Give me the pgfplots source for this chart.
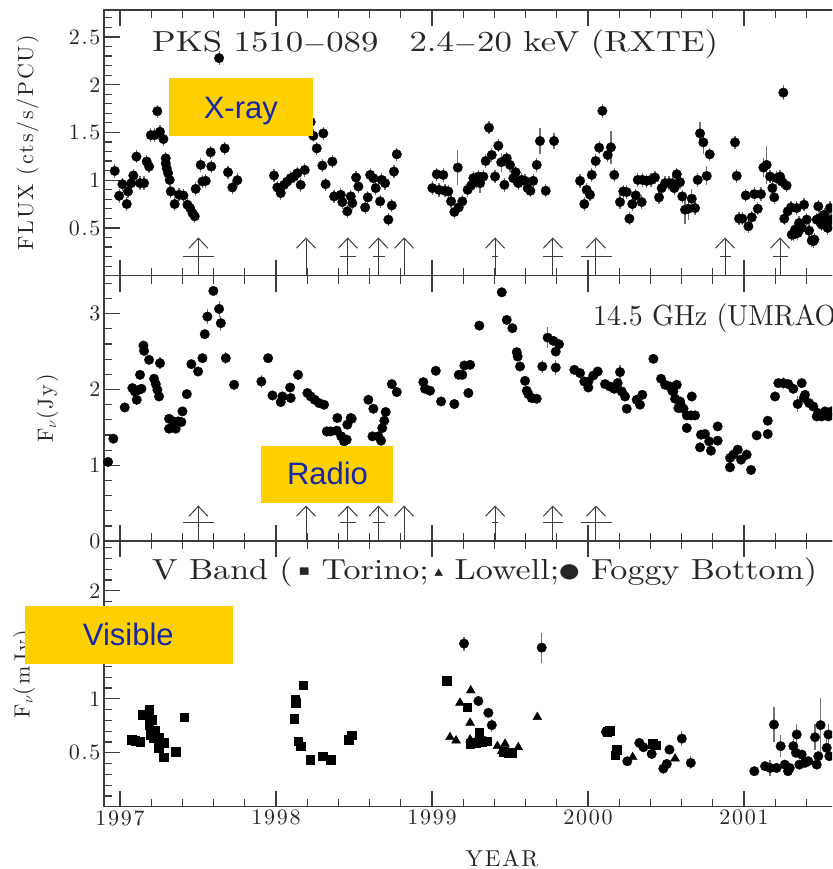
\documentclass[border=0pt]{standalone}
\usepackage{fontspec}
\usepackage{graphicx}
\usepackage{pgfplots}
\usepackage{pgfplotstable}
\pgfplotsset{compat=1.18}
\usetikzlibrary{arrows.meta}
\newfontfamily\hf{lmroman10-regular.otf}[LetterSpace=8]
\newfontfamily\hfplain{lmroman10-regular.otf}
\newfontfamily\arialf{Liberation Sans}
\newfontfamily\dejavu{DejaVu Sans}
\definecolor{boxyellow}{RGB}{255,208,0}
\definecolor{boxblue}{RGB}{22,40,168}
\definecolor{axgray}{RGB}{60,60,60}
\newcommand{\tickfont}{\hf\fontsize{22}{24}\selectfont}
\newcommand{\labfont}{\hf\fontsize{22}{24}\selectfont}
\newcommand{\titfont}{\hfplain\fontsize{29}{31}\selectfont}

% X-ray (RXTE) flux
\pgfplotstableread{
x y e
1996.966 1.097 0.07
1996.994 0.836 0.07
1997.015 0.958 0.07
1997.043 0.750 0.07
1997.051 0.882 0.07
1997.072 0.969 0.07
1997.085 1.049 0.07
1997.105 1.247 0.07
1997.128 0.969 0.07
1997.154 0.969 0.07
1997.171 1.195 0.07
1997.186 1.143 0.07
1997.197 1.472 0.07
1997.222 1.472 0.07
1997.239 1.722 0.07
1997.256 1.507 0.07
1997.278 1.430 0.07
1997.293 1.229 0.07
1997.293 1.177 0.07
1997.299 1.125 0.07
1997.308 1.073 0.07
1997.318 1.003 0.07
1997.325 0.882 0.07
1997.350 0.750 0.07
1997.378 0.847 0.07
1997.406 0.840 0.07
1997.432 0.743 0.07
1997.449 0.708 0.07
1997.464 0.656 0.07
1997.479 0.622 0.07
1997.485 0.909 0.07
1997.517 1.160 0.07
1997.528 0.986 0.07
1997.549 0.993 0.07
1997.581 1.292 0.07
1997.585 1.143 0.07
1997.635 2.278 0.07
1997.671 1.333 0.07
1997.692 1.083 0.07
1997.720 0.924 0.07
1997.752 1.000 0.07
1997.987 1.049 0.07
1998.008 0.924 0.07
1998.030 0.865 0.07
1998.051 0.951 0.07
1998.072 0.986 0.07
1998.094 1.021 0.07
1998.115 1.038 0.07
1998.137 1.073 0.07
1998.158 0.951 0.07
1998.184 1.107 0.07
1998.222 1.611 0.07
1998.239 1.465 0.07
1998.261 1.333 0.07
1998.303 1.490 0.07
1998.297 1.153 0.07
1998.318 0.958 0.07
1998.361 1.195 0.07
1998.372 0.830 0.07
1998.415 0.847 0.07
1998.425 0.771 0.07
1998.457 0.674 0.07
1998.479 0.830 0.07
1998.489 0.760 0.07
1998.513 1.028 0.07
1998.528 0.934 0.07
1998.571 0.715 0.07
1998.588 0.820 0.07
1998.603 1.055 0.07
1998.624 1.021 0.07
1998.639 0.917 0.07
1998.667 0.778 0.07
1998.677 1.003 0.07
1998.699 0.969 0.07
1998.720 0.587 0.07
1998.742 0.736 0.07
1998.756 1.090 0.07
1998.774 1.271 0.07
1999.002 0.917 0.07
1999.030 1.062 0.07
1999.045 0.899 0.07
1999.072 1.055 0.07
1999.083 0.889 0.07
1999.104 0.882 0.07
1999.122 0.778 0.07
1999.143 0.667 0.07
1999.165 1.132 0.18
1999.171 0.715 0.07
1999.194 0.778 0.07
1999.228 0.899 0.07
1999.250 0.944 0.07
1999.265 1.021 0.07
1999.287 0.986 0.07
1999.297 1.038 0.07
1999.308 0.969 0.10
1999.329 1.038 0.07
1999.344 1.201 0.07
1999.365 1.549 0.07
1999.383 1.264 0.07
1999.404 1.038 0.07
1999.425 1.361 0.07
1999.443 1.188 0.10
1999.464 0.951 0.07
1999.479 1.229 0.07
1999.500 1.160 0.07
1999.521 1.021 0.07
1999.536 1.083 0.07
1999.553 0.969 0.07
1999.575 1.003 0.07
1999.596 0.993 0.07
1999.613 0.917 0.07
1999.630 0.889 0.07
1999.649 0.993 0.07
1999.671 1.160 0.07
1999.692 1.410 0.14
1999.729 0.889 0.07
1999.782 1.410 0.08
1999.949 0.993 0.07
1999.976 0.750 0.07
1999.991 0.899 0.07
2000.013 0.847 0.07
2000.024 1.055 0.07
2000.049 1.201 0.07
2000.071 1.340 0.07
2000.092 1.726 0.07
2000.126 1.264 0.07
2000.147 1.344 0.17
2000.168 1.055 0.07
2000.205 0.771 0.07
2000.226 0.882 0.07
2000.248 0.875 0.07
2000.265 0.597 0.07
2000.284 0.750 0.07
2000.306 0.840 0.07
2000.319 1.003 0.07
2000.344 0.771 0.07
2000.348 1.003 0.07
2000.376 0.993 0.07
2000.404 1.003 0.07
2000.429 1.028 0.07
2000.455 0.820 0.07
2000.472 0.917 0.07
2000.494 0.969 0.07
2000.519 0.969 0.07
2000.540 0.969 0.07
2000.553 0.917 0.07
2000.569 1.062 0.07
2000.590 0.979 0.07
2000.604 0.830 0.07
2000.622 0.691 0.15
2000.643 0.701 0.12
2000.665 0.806 0.10
2000.686 0.708 0.07
2000.703 1.003 0.07
2000.718 1.490 0.12
2000.739 1.396 0.12
2000.761 1.045 0.10
2000.780 1.271 0.07
2000.942 1.396 0.07
2000.953 1.045 0.07
2000.968 0.597 0.07
2000.989 0.597 0.07
2001.011 0.840 0.07
2001.028 0.517 0.07
2001.050 0.611 0.07
2001.066 0.854 0.07
2001.088 0.701 0.07
2001.109 0.854 0.07
2001.124 1.132 0.10
2001.145 1.160 0.20
2001.167 1.038 0.07
2001.182 0.917 0.07
2001.194 0.820 0.07
2001.209 1.021 0.07
2001.231 1.038 0.07
2001.242 0.986 0.07
2001.252 1.917 0.08
2001.258 0.597 0.07
2001.273 0.944 0.07
2001.280 0.674 0.07
2001.301 0.715 0.07
2001.306 0.430 0.07
2001.316 0.430 0.07
2001.327 0.482 0.07
2001.338 0.708 0.07
2001.345 0.448 0.07
2001.353 0.552 0.07
2001.370 0.500 0.07
2001.385 0.743 0.07
2001.402 0.587 0.07
2001.417 0.472 0.07
2001.434 0.368 0.07
2001.444 0.361 0.07
2001.451 0.378 0.07
2001.466 0.587 0.07
2001.476 0.726 0.07
2001.487 0.604 0.07
2001.498 0.535 0.07
2001.515 0.639 0.07
2001.530 0.570 0.07
2001.536 0.500 0.07
2001.551 0.708 0.07
2001.562 0.587 0.07
}\xraydata

% Radio 14.5 GHz (UMRAO)
\pgfplotstableread{
x y e
1996.923 1.045 0.05
1996.957 1.351 0.04
1997.030 1.763 0.04
1997.079 2.018 0.04
1997.094 1.974 0.04
1997.107 1.864 0.04
1997.122 1.996 0.04
1997.128 2.193 0.04
1997.137 2.009 0.04
1997.150 2.579 0.04
1997.154 2.509 0.04
1997.186 2.391 0.04
1997.218 2.141 0.04
1997.229 2.071 0.04
1997.239 1.996 0.04
1997.250 1.908 0.04
1997.256 2.347 0.08
1997.314 1.614 0.04
1997.314 1.483 0.04
1997.342 1.579 0.04
1997.357 1.483 0.04
1997.372 1.579 0.04
1997.393 1.571 0.04
1997.400 1.711 0.04
1997.428 1.939 0.04
1997.457 2.334 0.04
1997.500 2.237 0.04
1997.528 2.413 0.04
1997.543 2.729 0.04
1997.560 2.961 0.10
1997.598 3.299 0.04
1997.635 3.062 0.10
1997.646 2.874 0.10
1997.678 2.413 0.08
1997.731 2.062 0.04
1997.906 2.105 0.08
1997.949 2.413 0.04
1997.977 1.921 0.04
1998.030 1.834 0.04
1998.041 1.908 0.04
1998.090 2.026 0.04
1998.094 1.887 0.04
1998.141 2.193 0.07
1998.201 1.953 0.04
1998.222 1.908 0.04
1998.248 1.864 0.04
1998.276 1.821 0.04
1998.308 1.799 0.04
1998.325 1.447 0.07
1998.350 1.447 0.04
1998.389 1.457 0.04
1998.393 1.624 0.04
1998.418 1.382 0.04
1998.436 1.316 0.04
1998.453 1.338 0.04
1998.457 1.536 0.04
1998.479 1.624 0.04
1998.485 1.614 0.04
1998.592 1.864 0.04
1998.618 1.382 0.04
1998.624 1.746 0.04
1998.656 1.382 0.04
1998.673 1.325 0.04
1998.681 1.492 0.04
1998.694 1.588 0.04
1998.703 1.703 0.04
1998.742 2.071 0.04
1998.774 1.966 0.04
1998.944 2.097 0.07
1998.955 2.009 0.04
1998.987 1.983 0.04
1999.024 2.246 0.04
1999.058 1.842 0.04
1999.143 1.808 0.04
1999.171 2.193 0.04
1999.194 2.193 0.04
1999.207 2.316 0.04
1999.233 1.953 0.04
1999.244 2.325 0.04
1999.303 2.842 0.06
1999.447 3.281 0.04
1999.479 2.917 0.06
1999.515 2.808 0.04
1999.543 2.492 0.04
1999.549 2.434 0.04
1999.564 2.303 0.04
1999.596 2.114 0.04
1999.607 1.983 0.06
1999.618 1.939 0.04
1999.639 1.887 0.04
1999.671 1.878 0.04
1999.707 2.303 0.08
1999.741 2.684 0.14
1999.778 2.641 0.04
1999.793 2.500 0.04
1999.793 2.289 0.10
1999.814 2.597 0.04
1999.912 2.259 0.04
1999.949 2.216 0.04
1999.976 2.105 0.04
2000.002 2.026 0.04
2000.002 2.105 0.04
2000.034 2.184 0.04
2000.062 2.237 0.04
2000.109 2.071 0.04
2000.141 2.039 0.04
2000.168 2.009 0.04
2000.190 2.084 0.04
2000.205 2.229 0.10
2000.216 1.974 0.04
2000.237 1.908 0.04
2000.248 1.746 0.04
2000.312 1.864 0.04
2000.333 1.799 0.04
2000.348 1.930 0.04
2000.419 2.404 0.04
2000.468 2.141 0.04
2000.494 2.062 0.04
2000.526 2.039 0.04
2000.540 1.983 0.04
2000.547 1.974 0.04
2000.558 1.878 0.04
2000.569 2.062 0.04
2000.579 1.755 0.04
2000.590 1.842 0.04
2000.596 1.789 0.04
2000.612 1.746 0.04
2000.633 1.658 0.04
2000.633 1.492 0.04
2000.660 1.658 0.04
2000.665 1.908 0.04
2000.686 1.658 0.04
2000.718 1.237 0.04
2000.724 1.404 0.04
2000.750 1.413 0.04
2000.776 1.316 0.04
2000.788 1.193 0.04
2000.831 1.513 0.04
2000.831 1.325 0.04
2000.910 1.097 0.08
2000.910 0.974 0.04
2000.932 1.141 0.04
2000.960 1.207 0.04
2000.981 1.075 0.04
2001.017 1.141 0.07
2001.045 0.939 0.04
2001.081 1.395 0.04
2001.152 1.588 0.04
2001.152 1.413 0.04
2001.199 1.908 0.04
2001.220 2.084 0.04
2001.252 2.084 0.08
2001.284 2.071 0.04
2001.316 2.009 0.04
2001.344 1.808 0.10
2001.370 2.084 0.04
2001.383 1.887 0.04
2001.391 1.930 0.04
2001.417 1.821 0.04
2001.444 1.776 0.04
2001.466 1.645 0.04
2001.476 1.689 0.04
2001.498 1.645 0.04
2001.519 1.711 0.04
2001.541 1.645 0.04
2001.562 1.711 0.04
}\radiodata

% V band: Torino (squares)
\pgfplotstableread{
x y
1997.075 0.622
1997.096 0.613
1997.128 0.601
1997.145 0.854
1997.188 0.901
1997.188 0.761
1997.203 0.808
1997.197 0.669
1997.214 0.638
1997.224 0.706
1997.252 0.638
1997.246 0.545
1997.278 0.591
1997.278 0.459
1997.355 0.508
1997.412 0.830
1998.117 0.814
1998.122 0.994
1998.126 0.963
1998.175 1.127
1998.143 0.607
1998.158 0.561
1998.218 0.436
1998.299 0.468
1998.350 0.436
1998.464 0.622
1998.485 0.663
1999.094 1.170
1999.226 0.923
1999.303 0.684
1999.244 0.582
1999.282 0.591
1999.319 0.601
1999.351 0.607
1999.458 0.508
1999.490 0.499
1999.511 0.499
2000.124 0.694
2000.137 0.706
2000.173 0.477
2000.184 0.529
2000.415 0.582
2000.436 0.570
}\torino

% V band: Lowell (triangles)
\pgfplotstableread{
x y
1999.115 0.644
1999.154 0.613
1999.179 0.963
1999.248 1.077
1999.244 0.777
1999.244 0.622
1999.419 0.561
1999.447 0.514
1999.468 0.582
1999.553 0.551
1999.675 0.830
2000.286 0.459
2000.558 0.446
}\lowell

% V band: Foggy Bottom (circles)
\pgfplotstableread{
x y e
1999.205 1.511 0.065
1999.287 0.601 0.04
1999.297 0.979 0.05
1999.340 0.607 0.04
1999.361 0.870 0.04
1999.383 0.756 0.06
1999.703 1.474 0.14
2000.115 0.694 0.03
2000.252 0.421 0.03
2000.329 0.591 0.03
2000.355 0.551 0.03
2000.408 0.489 0.03
2000.483 0.353 0.03
2000.505 0.396 0.03
2000.522 0.529 0.03
2000.601 0.631 0.07
2000.659 0.406 0.06
2001.066 0.329 0.04
2001.135 0.375 0.03
2001.167 0.359 0.07
2001.192 0.761 0.16
2001.209 0.359 0.03
2001.235 0.561 0.10
2001.261 0.390 0.03
2001.282 0.329 0.03
2001.293 0.359 0.03
2001.316 0.561 0.07
2001.338 0.669 0.10
2001.333 0.499 0.04
2001.355 0.390 0.03
2001.370 0.483 0.04
2001.391 0.406 0.04
2001.412 0.422 0.04
2001.455 0.644 0.12
2001.466 0.390 0.03
2001.476 0.468 0.04
2001.491 0.756 0.25
2001.530 0.545 0.10
2001.541 0.669 0.10
2001.547 0.468 0.04
}\foggy

% flare arrows (x positions)
\pgfplotstableread{
x y
1997.502 0
1998.192 0
1998.460 0
1998.656 0
1998.821 0
1999.404 0
1999.774 0
2000.051 0
2000.878 0
2001.231 0
}\arrowsX

\pgfplotstableread{
x y
1997.502 0
1998.192 0
1998.460 0
1998.656 0
1998.821 0
1999.404 0
1999.774 0
2000.051 0
}\arrowsR

\pgfplotsset{
 panel/.style={
  scale only axis, width=796pt, height=265.5pt,
  xmin=1996.897, xmax=2002.0,
  xtick={1997,1998,1999,2000,2001},
  minor xtick={1997.2,1997.4,1997.6,1997.8,1998.2,1998.4,1998.6,1998.8,1999.2,1999.4,1999.6,1999.8,2000.2,2000.4,2000.6,2000.8,2001.2,2001.4,2001.6,2001.8},
  tick align=inside, ytick pos=left,
  major tick length=16pt, minor tick length=8pt,
  axis line style={axgray, line width=1.4pt},
  tick style={axgray, line width=1.2pt},
  ticklabel style={font=\tickfont, text=black!85},
  ylabel style={font=\labfont, text=black!85},
 },
 dots/.style={only marks, mark=*, mark size=4.8pt,
   mark options={fill=black, draw=black, line width=0.3pt},
   error bars/y dir=both, error bars/y explicit, error bars/error mark=none,
   error bars/error bar style={black!55, line width=1.2pt}},
 flarearrow/.style={axgray, line width=1pt, no markers,
   -{Straight Barb[length=10pt,width=19pt]}},
 flarebar/.style={axgray, line width=1pt, no markers, unbounded coords=jump},
}

\begin{document}
\begin{tikzpicture}
\path[use as bounding box] (0pt,0pt) rectangle (832pt,869pt);
\clip (0pt,0pt) rectangle (832pt,869pt);

% ---------- X-ray ----------
\begin{axis}[panel, at={(104pt,593.3pt)}, anchor=south west,
  ymin=0, ymax=2.78,
  ytick={0.5,1,1.5,2,2.5}, yticklabels={0.5,1,1.5,2,2.5},
  minor ytick={0.1,0.2,0.3,0.4,0.6,0.7,0.8,0.9,1.1,1.2,1.3,1.4,1.6,1.7,1.8,1.9,2.1,2.2,2.3,2.4,2.6,2.7},
  xticklabels={},
  ylabel={FLUX (cts/s/PCU)},
  ylabel style={at={(axis description cs:-0.0961,0.5)}, anchor=center}]
\addplot[dots] table[x=x, y=y, y error=e] {\xraydata};
\addplot[flarearrow, quiver={u=0, v=0.40}] table[x=x, y=y] {\arrowsX};
\addplot[flarebar] table[row sep=\\] {x y\\
1997.404 0.205\\ 1997.600 0.205\\ nan nan\\
1998.410 0.205\\ 1998.513 0.205\\ nan nan\\
1998.622 0.205\\ 1998.699 0.205\\ nan nan\\
1999.384 0.205\\ 1999.424 0.205\\ nan nan\\
1999.712 0.205\\ 1999.838 0.205\\ nan nan\\
1999.953 0.205\\ 2000.151 0.205\\ nan nan\\
2000.846 0.205\\ 2000.915 0.205\\ nan nan\\
2001.188 0.205\\ 2001.284 0.205\\
};
\end{axis}

% ---------- Radio ----------
\begin{axis}[panel, at={(104pt,327.8pt)}, anchor=south west,
  ymin=0, ymax=3.5,
  ytick={0,1,2,3}, yticklabels={0,1,2,3},
  minor ytick={0.2,0.4,0.6,0.8,1.2,1.4,1.6,1.8,2.2,2.4,2.6,2.8,3.2,3.4},
  xticklabels={},
  ylabel={F$_\nu$(Jy)},
  ylabel style={at={(axis description cs:-0.0710,0.5)}, anchor=center}]
\addplot[dots] table[x=x, y=y, y error=e] {\radiodata};
\addplot[flarearrow, quiver={u=0, v=0.47}] table[x=x, y=y] {\arrowsR};
\addplot[flarebar] table[row sep=\\] {x y\\
1997.404 0.24\\ 1997.600 0.24\\ nan nan\\
1998.410 0.24\\ 1998.513 0.24\\ nan nan\\
1998.622 0.24\\ 1998.699 0.24\\ nan nan\\
1999.384 0.24\\ 1999.424 0.24\\ nan nan\\
1999.712 0.24\\ 1999.838 0.24\\ nan nan\\
1999.953 0.24\\ 2000.151 0.24\\
};
\end{axis}

% ---------- Visible ----------
\begin{axis}[panel, at={(104pt,62.3pt)}, anchor=south west,
  ymin=0, ymax=2.46,
  ytick={0.5,1,1.5,2}, yticklabels={0.5,1,1.5,2},
  minor ytick={0.1,0.2,0.3,0.4,0.6,0.7,0.8,0.9,1.1,1.2,1.3,1.4,1.6,1.7,1.8,1.9,2.1,2.2,2.3,2.4},
  xticklabels={1997,1998,1999,2000,2001},
  xlabel={YEAR},
  xlabel style={font=\hf\fontsize{23}{25}\selectfont, text=black!85,
    at={(axis description cs:0.5,-0.1960)}, anchor=center},
  ylabel={F$_\nu$(mJy)},
  ylabel style={at={(axis description cs:-0.1005,0.5)}, anchor=center}]
\addplot[only marks, mark=square*, mark size=4.3pt, mark options={fill=black,draw=black}] table[x=x,y=y] {\torino};
\addplot[only marks, mark=triangle*, mark size=5.1pt, mark options={fill=black,draw=black}] table[x=x,y=y] {\lowell};
\addplot[dots] table[x=x, y=y, y error=e] {\foggy};
\end{axis}

% ---------- panel titles ----------
\node[anchor=base west, inner sep=0pt, text=black!85] at (152pt,817.3pt)
  {\resizebox{566pt}{\height}{\titfont PKS 1510$-$089\hspace{0.9em}2.4$-$20 keV (RXTE)}};
\node[anchor=base west, inner sep=0pt, text=black!85] at (593pt,543pt)
  {\resizebox{254pt}{\height}{\titfont 14.5 GHz (UMRAO)}};
\node[anchor=base west, inner sep=0pt, text=black!85] at (152pt,289pt)
  {\resizebox{665pt}{\height}{\titfont V Band (\,\raisebox{4pt}{\dejavu\fontsize{15}{15}\selectfont ▪}\ Torino;\,\raisebox{3pt}{\dejavu\fontsize{15}{15}\selectfont ▴}\ Lowell;\raisebox{2pt}{\dejavu\fontsize{20}{20}\selectfont ●}\ Foggy Bottom)}};

% ---------- yellow callouts ----------
\fill[boxyellow] (169pt,733.3pt) rectangle (312.7pt,791pt);
\node[anchor=base, inner sep=0pt, text=boxblue, font=\arialf\fontsize{31}{33}\selectfont] at (240.8pt,750.7pt) {X-ray};
\fill[boxyellow] (261pt,365.7pt) rectangle (392.7pt,423pt);
\node[anchor=base, inner sep=0pt, text=boxblue, font=\arialf\fontsize{31}{33}\selectfont] at (327.5pt,384pt) {Radio};
\fill[boxyellow] (25pt,205.3pt) rectangle (232.7pt,263pt);
\node[anchor=base, inner sep=0pt, text=boxblue, font=\arialf\fontsize{31}{33}\selectfont] at (128.3pt,223pt) {Visible};
\end{tikzpicture}
\end{document}
